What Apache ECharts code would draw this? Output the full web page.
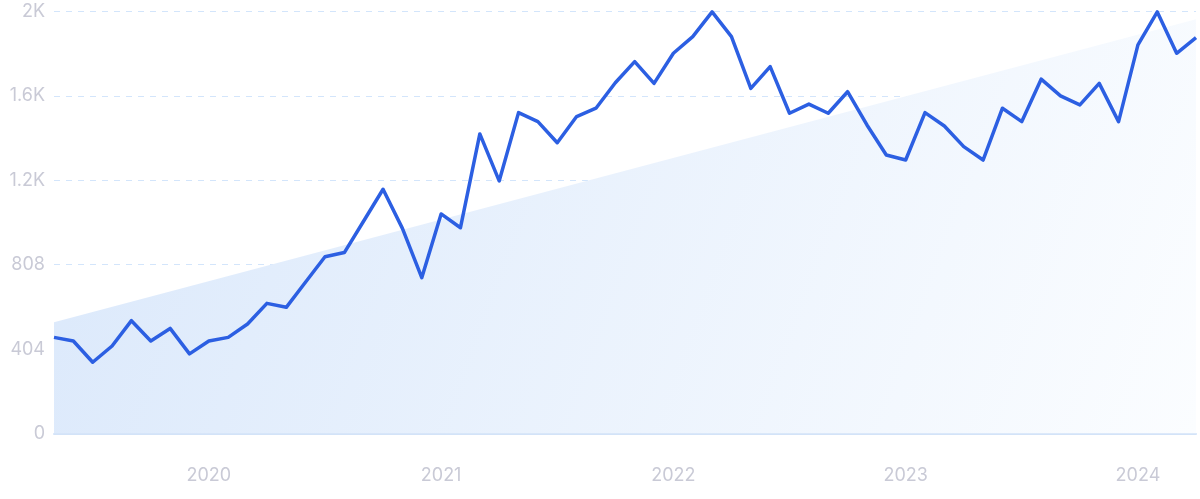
<!DOCTYPE html>
<html>
<head>
<meta charset="utf-8">
<script src="https://cdn.jsdelivr.net/npm/echarts@6/dist/echarts.min.js"></script>
<style>
html,body{margin:0;padding:0;background:#fff;}
#c{width:1200px;height:499px;}
</style>
</head>
<body>
<div id="c"></div>
<script>
// Months May 2019 – Apr 2024
const months = [
 '2019-05','2019-06','2019-07','2019-08','2019-09','2019-10','2019-11','2019-12',
 '2020-01','2020-02','2020-03','2020-04','2020-05','2020-06','2020-07','2020-08','2020-09','2020-10','2020-11','2020-12',
 '2021-01','2021-02','2021-03','2021-04','2021-05','2021-06','2021-07','2021-08','2021-09','2021-10','2021-11','2021-12',
 '2022-01','2022-02','2022-03','2022-04','2022-05','2022-06','2022-07','2022-08','2022-09','2022-10','2022-11','2022-12',
 '2023-01','2023-02','2023-03','2023-04','2023-05','2023-06','2023-07','2023-08','2023-09','2023-10','2023-11','2023-12',
 '2024-01','2024-02','2024-03','2024-04'
];
const values = [
 460,443,341,419,540,443,503,381,
 443,460,524,623,604,725,846,866,1017,1169,982,746,
 1051,985,1434,1209,1536,1493,1392,1517,1557,1679,1780,1676,
 1820,1900,2018,1900,1652,1756,1533,1577,1533,1636,1477,1333,
 1309,1536,1472,1373,1309,1557,1493,1696,1616,1573,1676,1493,
 1860,2018,1820,1895
];
// Trend line end points [category index, value]
const trendPoints = [[0, 532], [59, 1983]];
const yTickLabels = ['0','404','808','1.2K','1.6K','2K'];
const yStep = 404;
const yMax = 2020;

const chart = echarts.init(document.getElementById('c'));
const labelColor = '#c9cad6';
chart.setOption({
  animation: false,
  grid: {left: 54, right: 4, top: 11.5, bottom: 65.5},
  xAxis: {
    type: 'category',
    data: months,
    boundaryGap: false,
    axisLine: {show: true, lineStyle: {color: '#d3e3f8', width: 2}},
    axisTick: {show: false},
    splitLine: {show: false},
    axisLabel: {
      interval: function (i, v) { return v.slice(5) === '01'; },
      formatter: function (v) { return v.slice(0, 4); },
      color: labelColor,
      fontFamily: 'Inter, Roboto, sans-serif',
      fontSize: 18,
      margin: 33
    }
  },
  yAxis: {
    type: 'value',
    min: 0, max: yMax, interval: yStep,
    axisLine: {show: false},
    axisTick: {show: false},
    splitLine: {show: true, lineStyle: {color: '#d3e5fb', type: [6, 6], width: 1}},
    axisLabel: {
      formatter: function (v) { return yTickLabels[Math.round(v / yStep)]; },
      color: labelColor,
      fontFamily: 'Inter, Roboto, sans-serif',
      fontSize: 18,
      margin: 9
    }
  },
  series: [
    {
      type: 'line',
      data: trendPoints,
      symbol: 'none',
      lineStyle: {width: 0, opacity: 0},
      areaStyle: {
        opacity: 1,
        color: new echarts.graphic.LinearGradient(0, 0, 1, 1, [
          {offset: 0, color: '#dae8fb'},
          {offset: 1, color: '#fbfdff'}
        ])
      },
      silent: true,
      z: 1
    },
    {
      type: 'line',
      data: values,
      symbol: 'none',
      lineStyle: {color: '#2c5fe2', width: 3.5, join: 'round'},
      z: 3
    }
  ]
});
</script>
</body>
</html>
